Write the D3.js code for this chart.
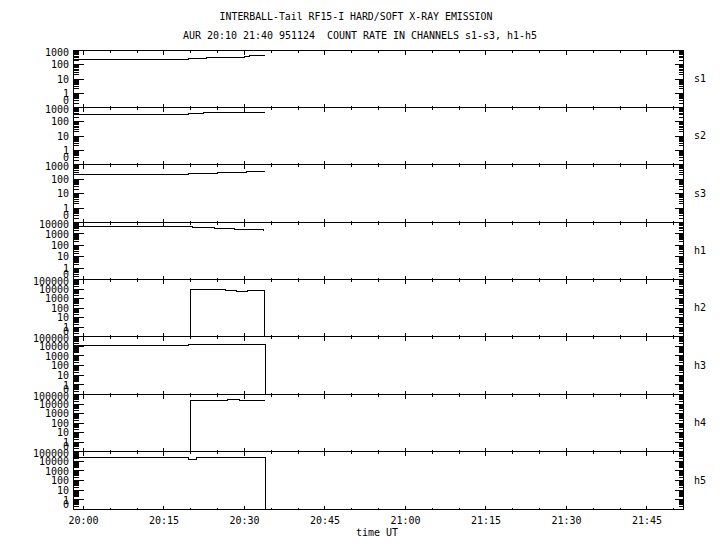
<!DOCTYPE html>
<html>
<head>
<style>
    body { margin: 0; background: #fff; }
    text { font-family: "DejaVu Sans Mono", monospace; fill: #000; }
    .frame, .tick, .trace { stroke: #000; stroke-width: 1; fill: none; shape-rendering: crispEdges; }
</style>
<script src="https://d3js.org/d3.v7.min.js"></script>
</head>
<body>
<svg width="720" height="550"></svg>
<script>
// channel names and the top decade of each log axis
var channels = ["s1", "s2", "s3", "h1", "h2", "h3", "h4", "h5"];
var topDecade = [3, 3, 3, 4, 5, 5, 5, 5];

// time axis, minutes after 20:00
var timeTicks = [0, 15, 30, 45, 60, 75, 90, 105];
var timeLabels = ["20:00", "20:15", "20:30", "20:45", "21:00", "21:15", "21:30", "21:45"];

// count rates (time in minutes after 20:00)
var s1T = [-1.9, 19.5, 20.4, 21.3, 22.1, 23.0, 24.0, 25.0, 26.0, 27.0, 28.0, 29.0, 30.0, 31.0, 32.0, 33.0, 33.9];
var s1V = [250, 272, 285, 280, 292, 300, 318, 324, 330, 322, 335, 340, 405, 412, 418, 422, 420];
var s2T = [-1.9, 19.5, 20.5, 21.5, 22.3, 23.5, 24.6, 25.7, 26.8, 27.9, 29.0, 30.1, 31.2, 32.3, 33.9];
var s2V = [330, 365, 360, 372, 430, 425, 436, 420, 432, 475, 468, 480, 472, 478, 478];
var s3T = [-1.9, 19.5, 20.6, 21.7, 22.8, 25.0, 26.2, 27.4, 28.6, 30.4, 31.5, 32.6, 33.9];
var s3V = [214, 240, 236, 244, 238, 282, 276, 286, 280, 330, 322, 336, 330];
var h1T = [-1.9, 20.4, 24.4, 28.1, 33.5];
var h1V = [4300, 3740, 3060, 2350, 1930];
var h2T = [-1.9, 19.9, 22.0, 24.5, 26.4, 28.5, 30.6, 32.2, 33.8];
var h2V = [0, 8800, 8600, 8900, 6300, 6100, 6400, 6200, 0];
var h3T = [-1.9, 19.5, 23.0, 27.0, 31.0, 34.0];
var h3V = [13200, 15700, 15300, 15900, 15600, 0];
var h4T = [-1.9, 19.9, 23.5, 26.8, 29.0, 33.8];
var h4V = [0, 26300, 25800, 26500, 23300, 23300];
var h5T = [-1.9, 19.5, 21.0, 26.6, 30.5, 33.9];
var h5V = [21500, 15700, 21500, 25300, 21500, 0];

var seriesT = [s1T, s2T, s3T, h1T, h2T, h3T, h4T, h5T];
var seriesV = [s1V, s2V, s3V, h1V, h2V, h3V, h4V, h5V];

var svg = d3.select("svg");
var x0 = 73.5, x1 = 683.5;

var x = d3.scaleLinear().domain([-1.86, 111.9]).range([x0, x1 + 0.5]);
var panelY = d3.scaleLinear().domain([0, channels.length]).range([50, 509]);

function px(v) { return Math.floor(v) + 0.5; }

function fit(sel, cw) {
    sel.attr("textLength", function () { return this.textContent.length * cw; })
       .attr("lengthAdjust", "spacingAndGlyphs");
}

// titles
svg.append("text").attr("x", 356).attr("y", 20).attr("text-anchor", "middle")
   .style("font-size", "11px")
   .text("INTERBALL-Tail RF15-I HARD/SOFT X-RAY EMISSION").call(fit, 5.93);
svg.append("text").attr("x", 360).attr("y", 39).attr("text-anchor", "middle")
   .style("font-size", "11px").attr("xml:space", "preserve")
   .text("AUR 20:10 21:40 951124  COUNT RATE IN CHANNELS s1-s3, h1-h5").call(fit, 6.0);

var minorTimes = d3.range(0, 112, 5);

channels.forEach(function (name, i) {
    var top = px(panelY(i)),
        bottom = px(panelY(i + 1)),
        td = topDecade[i];
    var y = d3.scaleLinear().domain([-1, td]).range([bottom, top]);
    var g = svg.append("g");

    g.append("rect").attr("class", "frame")
     .attr("x", x0).attr("y", top).attr("width", x1 - x0).attr("height", bottom - top);

    // time ticks on top and bottom edge of every panel
    minorTimes.forEach(function (t) {
        var len = (t % 15 === 0) ? 4 : 2;
        var xx = px(x(t));
        g.append("line").attr("class", "tick").attr("x1", xx).attr("x2", xx).attr("y1", top).attr("y2", top + len);
        g.append("line").attr("class", "tick").attr("x1", xx).attr("x2", xx).attr("y1", bottom).attr("y2", bottom - len);
    });

    // log ticks, left and right
    for (var d = -1; d <= td; d++) {
        var yy = px(y(d));
        g.append("line").attr("class", "tick").attr("x1", x0).attr("x2", x0 + 10).attr("y1", yy).attr("y2", yy);
        g.append("line").attr("class", "tick").attr("x1", x1).attr("x2", x1 - 9).attr("y1", yy).attr("y2", yy);
        if (d < td) {
            for (var k = 2; k <= 9; k++) {
                var ym = px(y(d + Math.log10(k)));
                g.append("line").attr("class", "tick").attr("x1", x0).attr("x2", x0 + 5).attr("y1", ym).attr("y2", ym);
                g.append("line").attr("class", "tick").attr("x1", x1).attr("x2", x1 - 5).attr("y1", ym).attr("y2", ym);
            }
        }
    }

    // tick labels
    var labels = d3.range(td, -1, -1).map(function (d) { return { v: d, s: String(Math.pow(10, d)) }; });
    labels.push({ v: -0.5, s: "0" });
    g.selectAll(".ylab").data(labels).enter().append("text")
     .attr("x", 69).attr("text-anchor", "end").style("font-size", "10px")
     .attr("y", function (l) { return Math.max(y(l.v), top + 1.5) + 3.7; })
     .text(function (l) { return l.s; });

    g.append("text").attr("x", 694).attr("y", (top + bottom) / 2 + 3)
     .style("font-size", "10px").text(name);

    // the trace
    var pts = seriesT[i].map(function (t, j) { return [t, seriesV[i][j]]; });
    var line = d3.line()
        .x(function (p) { return x(p[0]); })
        .y(function (p) { return px(y(p[1] > 0.1 ? Math.log10(p[1]) : -1)); })
        .curve(d3.curveStepAfter);
    g.append("path").attr("class", "trace").attr("d", line(pts));
});

// bottom time labels
svg.selectAll(".xlab").data(timeTicks).enter().append("text")
   .attr("x", function (t) { return x(t); }).attr("y", 524)
   .attr("text-anchor", "middle").style("font-size", "10px")
   .text(function (t, j) { return timeLabels[j]; });

svg.append("text").attr("x", 377).attr("y", 536).attr("text-anchor", "middle")
   .style("font-size", "10px").text("time UT");
</script>
</body>
</html>
